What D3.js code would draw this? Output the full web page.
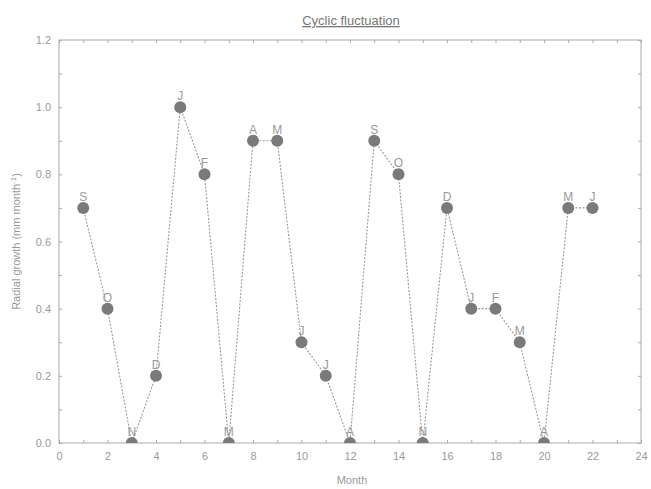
<!DOCTYPE html>
<html>
<head>
<meta charset="utf-8">
<script src="https://cdn.jsdelivr.net/npm/d3@7"></script>
<style>
  body { margin: 0; background: #fff; }
  text { font-family: "Liberation Sans", Arial, sans-serif; }
</style>
</head>
<body>
<div id="chart"></div>
<script>
// data
const months = [1, 2, 3, 4, 5, 6, 7, 8, 9, 10, 11, 12, 13, 14, 15, 16, 17, 18, 19, 20, 21, 22];
const growth = [0.7, 0.4, 0.0, 0.2, 1.0, 0.8, 0.0, 0.9, 0.9, 0.3, 0.2, 0.0, 0.9, 0.8, 0.0, 0.7, 0.4, 0.4, 0.3, 0.0, 0.7, 0.7];
const monthLetters = ["S", "O", "N", "D", "J", "F", "M", "A", "M", "J", "J", "A", "S", "O", "N", "D", "J", "F", "M", "A", "M", "J"];
const xTicks = [0, 2, 4, 6, 8, 10, 12, 14, 16, 18, 20, 22, 24];
const yTicks = [0.0, 0.2, 0.4, 0.6, 0.8, 1.0, 1.2];

const W = 651, H = 489;
const margin = { top: 40, right: 10, bottom: 46, left: 59 };
const width = W - margin.left - margin.right,
      height = H - margin.top - margin.bottom;

const data = months.map((m, i) => ({ m: m, v: growth[i], lab: monthLetters[i] }));

const svg = d3.select("#chart").append("svg")
  .attr("width", W).attr("height", H);

const g = svg.append("g")
  .attr("transform", "translate(" + margin.left + "," + margin.top + ")");

const x = d3.scaleLinear().domain([0, 24]).range([0, width]);
const y = d3.scaleLinear().domain([0, 1.2]).range([height, 0]);

const axisColor = "#aaa", textColor = "#999";

// frame
g.append("rect")
  .attr("width", width).attr("height", height)
  .attr("fill", "none").attr("stroke", axisColor).attr("stroke-width", 1);

// inward ticks on all sides (major + minor)
const xMinor = d3.range(0, 25, 1);
const yMinor = d3.range(0, 1.21, 0.1);

function tickLayer(axis, tickSize) {
  return axis.tickSize(tickSize).tickFormat("");
}
g.append("g").attr("transform", "translate(0," + height + ")")
  .call(tickLayer(d3.axisTop(x).tickValues(xMinor), 3));
g.append("g")
  .call(tickLayer(d3.axisBottom(x).tickValues(xMinor), 3));
g.append("g")
  .call(tickLayer(d3.axisRight(y).tickValues(yMinor), 3));
g.append("g").attr("transform", "translate(" + width + ",0)")
  .call(tickLayer(d3.axisLeft(y).tickValues(yMinor), 3));
g.selectAll(".domain").remove();
g.selectAll(".tick line").attr("stroke", axisColor);

// tick labels
const xAxis = g.append("g").attr("transform", "translate(0," + height + ")")
  .call(d3.axisBottom(x).tickValues(xTicks).tickSize(0).tickPadding(9));
const yAxis = g.append("g")
  .call(d3.axisLeft(y).tickValues(yTicks).tickSize(0).tickPadding(8).tickFormat(d3.format(".1f")));
[xAxis, yAxis].forEach(a => {
  a.select(".domain").remove();
  a.selectAll("text").attr("fill", textColor).style("font-size", "11px");
});

// clip to the plot area so points on zero are cut in half
g.append("clipPath").attr("id", "plotclip")
  .append("rect").attr("width", width).attr("height", height);

const plot = g.append("g").attr("clip-path", "url(#plotclip)");

const line = d3.line().x(d => x(d.m)).y(d => y(d.v));

plot.append("path")
  .datum(data)
  .attr("d", line)
  .attr("fill", "none")
  .attr("stroke", "#999")
  .attr("stroke-width", 1.1)
  .attr("stroke-dasharray", "2,1.5");

plot.selectAll("circle")
  .data(data)
  .enter()
  .append("circle")
  .attr("cx", d => x(d.m))
  .attr("cy", d => y(d.v))
  .attr("r", 6)
  .attr("fill", "#7a7a7a");

// month letters above each point
g.selectAll(".lab")
  .data(data)
  .enter()
  .append("text")
  .attr("class", "lab")
  .attr("x", d => x(d.m))
  .attr("y", d => y(d.v) - 7)
  .attr("text-anchor", "middle")
  .attr("fill", textColor)
  .style("font-size", "12px")
  .text(d => d.lab);

// title
svg.append("text")
  .attr("x", margin.left + width / 2 + 1)
  .attr("y", 25)
  .attr("text-anchor", "middle")
  .attr("fill", "#777")
  .style("font-size", "13px")
  .style("text-decoration", "underline")
  .text("Cyclic fluctuation");

// axis labels
svg.append("text")
  .attr("x", margin.left + width / 2 + 2)
  .attr("y", 484)
  .attr("text-anchor", "middle")
  .attr("fill", textColor)
  .style("font-size", "11px")
  .text("Month");

const yl = svg.append("text")
  .attr("transform", "translate(20," + (margin.top + height / 2) + ") rotate(-90)")
  .attr("text-anchor", "middle")
  .attr("fill", textColor)
  .style("font-size", "11px");
yl.append("tspan").text("Radial growth (mm month");
yl.append("tspan").attr("dy", -4).style("font-size", "8px").text("-1");
yl.append("tspan").attr("dy", 4).text(")");
</script>
</body>
</html>
